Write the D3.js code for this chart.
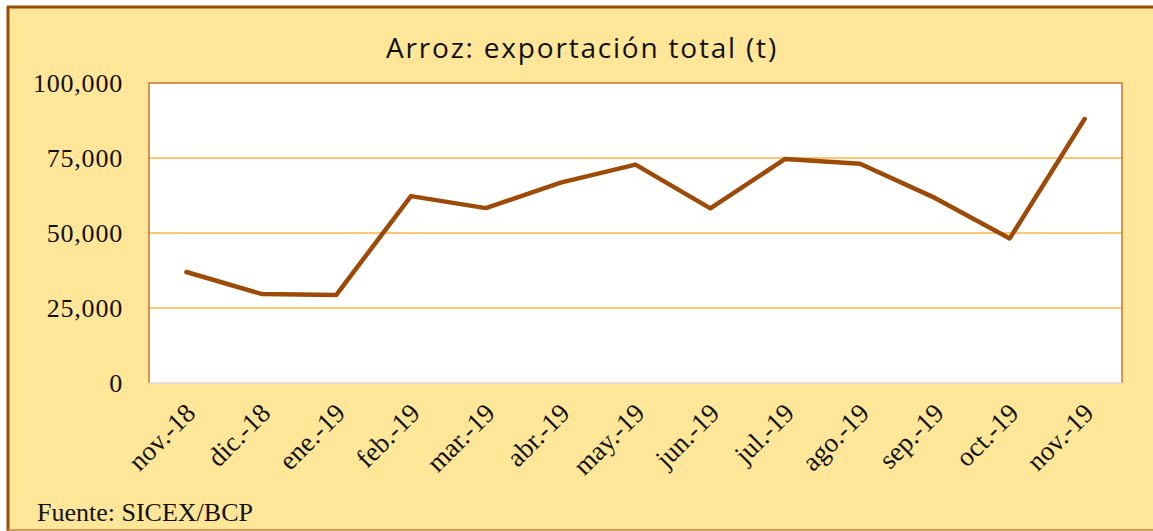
<!DOCTYPE html>
<html>
<head>
<meta charset="utf-8">
<script src="https://cdn.jsdelivr.net/npm/d3@7"></script>
<style>
  body { margin: 0; background: #fff; }
  svg { display: block; }
</style>
</head>
<body>
<div id="chart"></div>
<script>
// Arroz: exportación total (t)
const months = ['nov.-18', 'dic.-18', 'ene.-19', 'feb.-19', 'mar.-19', 'abr.-19', 'may.-19',
  'jun.-19', 'jul.-19', 'ago.-19', 'sep.-19', 'oct.-19', 'nov.-19'];
const exports = [37000, 29700, 29300, 62300, 58300, 66800, 72800, 58200, 74700, 73100, 61700, 48200, 88000];
const yTicks = [0, 25000, 50000, 75000, 100000];

const width = 1153;
const height = 531;
const plot = { left: 149, right: 1122, top: 83, bottom: 383 };

const svg = d3.select('#chart')
  .append('svg')
  .attr('width', width)
  .attr('height', height);

// outer frame
svg.append('rect')
  .attr('x', 8).attr('y', 7)
  .attr('width', width + 10).attr('height', 523)
  .attr('fill', '#FFE699');
svg.append('line')
  .attr('x1', 7).attr('x2', width).attr('y1', 7).attr('y2', 7)
  .attr('stroke', '#9C4A08').attr('stroke-width', 3);
svg.append('line')
  .attr('x1', 8).attr('x2', 8).attr('y1', 6).attr('y2', 531)
  .attr('stroke', '#9C4A08').attr('stroke-width', 3);
svg.append('line')
  .attr('x1', 7).attr('x2', width).attr('y1', 530).attr('y2', 530)
  .attr('stroke', '#C0843C').attr('stroke-width', 1.5);

const x = d3.scaleBand()
  .domain(months)
  .range([plot.left, plot.right]);

const y = d3.scaleLinear()
  .domain([0, 100000])
  .range([plot.bottom, plot.top]);

svg.append('rect')
  .attr('x', plot.left).attr('y', plot.top)
  .attr('width', plot.right - plot.left).attr('height', plot.bottom - plot.top)
  .attr('fill', '#fff');

// gridlines
svg.append('g')
  .selectAll('line')
  .data(yTicks.filter(d => d > 0 && d < 100000))
  .join('line')
  .attr('x1', plot.left).attr('x2', plot.right)
  .attr('y1', d => y(d)).attr('y2', d => y(d))
  .attr('stroke', '#FFB347').attr('stroke-width', 1.5);

// plot border
svg.append('path')
  .attr('d', `M${plot.left},${plot.bottom}V${plot.top}H${plot.right}V${plot.bottom}`)
  .attr('fill', 'none')
  .attr('stroke', '#C8762E').attr('stroke-width', 1.5);
svg.append('line')
  .attr('x1', plot.left).attr('x2', plot.right)
  .attr('y1', plot.bottom).attr('y2', plot.bottom)
  .attr('stroke', '#D9D9D9').attr('stroke-width', 1.5);

// y axis labels
const yAxis = d3.axisLeft(y)
  .tickValues(yTicks)
  .tickSize(0)
  .tickPadding(26)
  .tickFormat(d3.format(','));

const gy = svg.append('g')
  .attr('transform', `translate(${plot.left},0)`)
  .call(yAxis);
gy.select('.domain').remove();
gy.selectAll('text')
  .attr('font-family', '"Liberation Serif", "Times New Roman", serif')
  .attr('font-size', 26)
  .attr('letter-spacing', 0.8)
  .attr('fill', '#111')
  .attr('dy', '0.32em');

// x axis labels
svg.append('g')
  .selectAll('text')
  .data(months)
  .join('text')
  .attr('transform', d => `translate(${x(d) + x.bandwidth() / 2 + 4},${plot.bottom + 25}) rotate(-45)`)
  .attr('text-anchor', 'end')
  .attr('dy', '0.35em')
  .attr('font-family', '"Liberation Serif", "Times New Roman", serif')
  .attr('font-size', 27)
  .attr('fill', '#111')
  .text(d => d);

// line
const line = d3.line()
  .x((d, i) => x(months[i]) + x.bandwidth() / 2)
  .y(d => y(d));

svg.append('path')
  .datum(exports)
  .attr('d', line)
  .attr('fill', 'none')
  .attr('stroke', '#9C4A08')
  .attr('stroke-width', 4.5)
  .attr('stroke-linejoin', 'round')
  .attr('stroke-linecap', 'round');

// title
svg.append('text')
  .attr('x', 582).attr('y', 58)
  .attr('text-anchor', 'middle')
  .attr('font-family', '"Open Sans", Lato, sans-serif')
  .attr('font-size', 28)
  .attr('letter-spacing', 1.8)
  .attr('fill', '#111')
  .text('Arroz: exportación total (t)');

// source
svg.append('text')
  .attr('x', 37).attr('y', 521)
  .attr('font-family', '"Liberation Serif", "Times New Roman", serif')
  .attr('font-size', 26)
  .attr('fill', '#111')
  .text('Fuente: SICEX/BCP');
</script>
</body>
</html>
